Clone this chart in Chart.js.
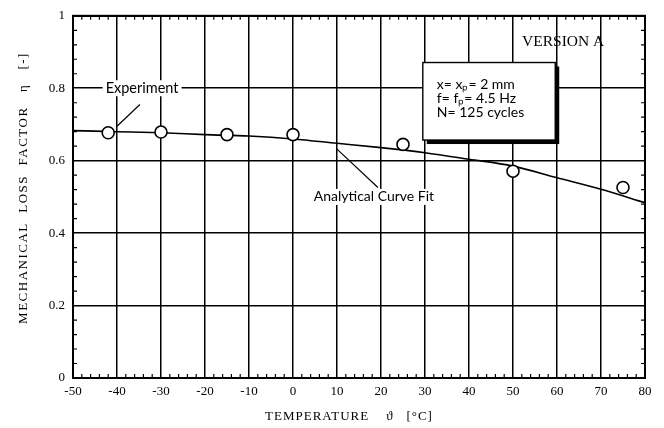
<!DOCTYPE html>
<html>
<head>
<meta charset="utf-8">
<script src="https://cdn.jsdelivr.net/npm/chart.js@4/dist/chart.umd.min.js"></script>
<style>
  html, body { margin: 0; padding: 0; background: #fff; }
  #wrap { width: 664px; height: 428px; position: relative; }
</style>
</head>
<body>
<div id="wrap"><canvas id="lossChart"></canvas></div>
<script>
// measured points (temperature in °C, loss factor)
const tempExp = [-42, -30, -15, 0, 25, 50, 75];
const lossExp = [0.677, 0.679, 0.672, 0.672, 0.645, 0.571, 0.526];

// analytical curve fit
const tempFit = [-50, -40, -30, -20, -10, 0, 10, 20, 30, 40, 50, 60, 70, 80];
const lossFit = [0.683, 0.680, 0.677, 0.672, 0.668, 0.660, 0.648, 0.636, 0.622, 0.604, 0.585, 0.553, 0.521, 0.484];

const boxLines = ['x= x\u209A= 2 mm', 'f= f\u209A= 4.5 Hz', 'N= 125 cycles'];

const serif = '"Liberation Serif", "DejaVu Serif", serif';
const sans = 'Lato, "Liberation Sans", sans-serif';

function edgeWidth(ctx) {
    const n = ctx.chart.scales[ctx.scale.id].ticks.length;
    return (ctx.index === 0 || ctx.index === n - 1) ? 2 : 1.5;
}

// minor ticks, frame and the text annotations
const decorPlugin = {
    id: 'decor',
    afterDraw(chart) {
        const c = chart.ctx;
        const xs = chart.scales.x, ys = chart.scales.y;
        const a = chart.chartArea;
        c.save();
        c.strokeStyle = '#000';
        c.lineWidth = 1.2;
        // minor ticks every 2 °C, top and bottom
        for (let t = -48; t < 80; t += 2) {
            if (t % 10 === 0) continue;
            const px = xs.getPixelForValue(t);
            c.beginPath();
            c.moveTo(px, a.bottom); c.lineTo(px, a.bottom - 4);
            c.moveTo(px, a.top); c.lineTo(px, a.top + 4);
            c.stroke();
        }
        // minor ticks every 0.04, left and right
        for (let i = 1; i < 25; i++) {
            if (i % 5 === 0) continue;
            const py = ys.getPixelForValue(i * 0.04);
            c.beginPath();
            c.moveTo(a.left, py); c.lineTo(a.left + 4, py);
            c.moveTo(a.right, py); c.lineTo(a.right - 4, py);
            c.stroke();
        }
        // frame
        c.lineWidth = 2;
        c.strokeRect(a.left, a.top, a.right - a.left, a.bottom - a.top);

        const X = v => xs.getPixelForValue(v);
        const Y = v => ys.getPixelForValue(v);

        function label(txt, x, y, font) {
            c.font = font;
            const w = c.measureText(txt).width;
            c.fillStyle = '#fff';
            c.fillRect(x - w / 2 - 3, y - 8, w + 6, 16);
            c.fillStyle = '#000';
            c.textAlign = 'center';
            c.textBaseline = 'middle';
            c.fillText(txt, x, y);
        }

        // Experiment
        label('Experiment', X(-34.3), Y(0.8), '14.5px ' + sans);
        c.lineWidth = 1.2;
        c.beginPath();
        c.moveTo(X(-40), Y(0.695)); c.lineTo(X(-34.8), Y(0.755));
        c.stroke();

        // Analytical Curve Fit
        label('Analytical Curve Fit', X(18.4), Y(0.5), '14px ' + sans);
        c.beginPath();
        c.moveTo(X(10), Y(0.632)); c.lineTo(X(19.3), Y(0.526));
        c.stroke();

        // VERSION A
        c.font = '15.5px ' + serif;
        c.fillStyle = '#000';
        c.textAlign = 'center';
        c.textBaseline = 'middle';
        c.fillText('VERSION A', X(61.4), Y(0.929));

        // parameter box with shadow
        const bx = X(29.5), by = Y(0.871), bw = X(59.6) - bx, bh = Y(0.657) - by;
        c.fillStyle = '#000';
        c.fillRect(bx + 4, by + 4, bw, bh);
        c.fillStyle = '#fff';
        c.fillRect(bx, by, bw, bh);
        c.lineWidth = 1.4;
        c.strokeRect(bx, by, bw, bh);
        c.fillStyle = '#000';
        c.textAlign = 'left';
        c.font = '14px ' + sans;
        boxLines.forEach((t, i) => c.fillText(t, bx + 14, by + 22 + i * 14));

        // axis titles
        c.font = '13px ' + serif;
        c.letterSpacing = '1px';
        c.textAlign = 'center';
        c.fillText('TEMPERATURE    \u03D1   [\u00B0C]', 349, 417);
        c.letterSpacing = '1.5px';
        c.translate(24, 188);
        c.rotate(-Math.PI / 2);
        c.fillText('MECHANICAL  LOSS  FACTOR   \u03B7   [-]', 0, 0);
        c.restore();
    }
};

new Chart(document.getElementById('lossChart'), {
    type: 'scatter',
    data: {
        datasets: [
            {
                label: 'Analytical Curve Fit',
                data: tempFit.map((t, i) => ({ x: t, y: lossFit[i] })),
                showLine: true,
                borderColor: '#000',
                borderWidth: 1.6,
                pointRadius: 0,
                cubicInterpolationMode: 'monotone',
                order: 2
            },
            {
                label: 'Experiment',
                data: tempExp.map((t, i) => ({ x: t, y: lossExp[i] })),
                showLine: false,
                pointRadius: 6,
                pointBackgroundColor: '#fff',
                pointBorderColor: '#000',
                pointBorderWidth: 1.6,
                order: 1
            }
        ]
    },
    options: {
        responsive: true,
        maintainAspectRatio: false,
        animation: false,
        layout: { padding: { left: 0, right: 19, top: 14, bottom: 0 } },
        plugins: {
            legend: { display: false },
            tooltip: { enabled: false }
        },
        scales: {
            x: {
                type: 'linear',
                min: -50,
                max: 80,
                ticks: {
                    stepSize: 10,
                    color: '#000',
                    padding: 6,
                    font: { family: serif, size: 13 }
                },
                grid: { color: '#000', lineWidth: edgeWidth, drawTicks: false },
                border: { display: false },
                afterFit: s => { s.height = 50; }
            },
            y: {
                type: 'linear',
                min: 0,
                max: 1,
                ticks: {
                    stepSize: 0.2,
                    color: '#000',
                    padding: 8,
                    font: { family: serif, size: 13 },
                    callback: v => String(+v.toFixed(1))
                },
                grid: { color: '#000', lineWidth: edgeWidth, drawTicks: false },
                border: { display: false },
                afterFit: s => { s.width = 73; }
            }
        }
    },
    plugins: [decorPlugin]
});
</script>
</body>
</html>
